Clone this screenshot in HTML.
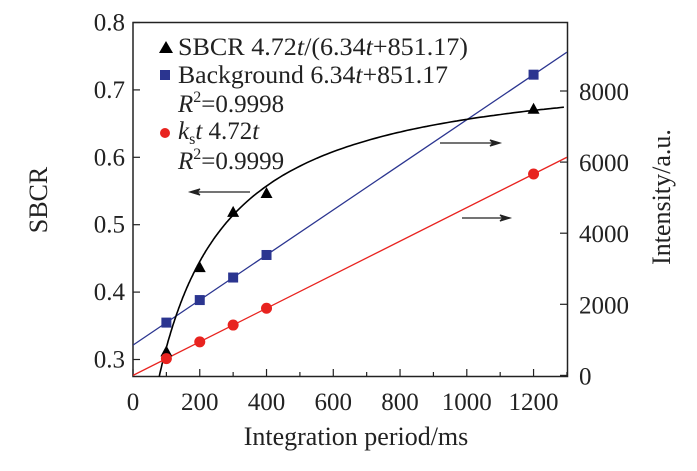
<!DOCTYPE html>
<html><head><meta charset="utf-8"><style>
body{margin:0;background:#fff;}
svg text{font-family:"Liberation Serif",serif;fill:#222;}
</style></head><body>
<svg id="s" width="697" height="466" viewBox="0 0 697 466" xmlns="http://www.w3.org/2000/svg">
<defs><clipPath id="c"><rect x="133" y="22.5" width="434" height="354"/></clipPath></defs>
<rect x="133" y="22.5" width="434.5" height="354" fill="none" stroke="#222" stroke-width="1.5"/>
<g id="ticks" stroke="#222" stroke-width="1.2"></g>
<g id="lab" font-size="25"></g>
<g clip-path="url(#c)" id="lines"></g>
<g id="mk"></g>
<g stroke="#222" stroke-width="1.2" fill="#222">
<line x1="250" y1="192" x2="192" y2="192"/><path d="M190 192 l10 -3 l-3 3 l3 3z"/>
<line x1="440" y1="143" x2="498" y2="143"/><path d="M500 143 l-10 -3 l3 3 l-3 3z"/>
<line x1="462" y1="218" x2="508" y2="218"/><path d="M510 218 l-10 -3 l3 3 l-3 3z"/>
</g>
<g font-size="25">
<path d="M159 53 l7 -12 l7 12z" fill="#000"/>
<text x="178" y="55" textLength="290" lengthAdjust="spacingAndGlyphs">SBCR 4.72<tspan font-style="italic">t</tspan>/(6.34<tspan font-style="italic">t</tspan>+851.17)</text>
<rect x="160" y="70" width="10" height="10" fill="#2b3590"/>
<text x="178" y="83" textLength="270" lengthAdjust="spacingAndGlyphs">Background 6.34<tspan font-style="italic">t</tspan>+851.17</text>
<text x="178" y="112"><tspan font-style="italic">R</tspan><tspan font-size="16" dy="-10">2</tspan><tspan dy="10">=0.9998</tspan></text>
<circle cx="165" cy="133" r="5" fill="#e8231f"/>
<text x="178" y="139"><tspan font-style="italic">k</tspan><tspan font-size="16" dy="5">s</tspan><tspan font-style="italic" dy="-5">t</tspan> 4.72<tspan font-style="italic">t</tspan></text>
<text x="178" y="169"><tspan font-style="italic">R</tspan><tspan font-size="16" dy="-10">2</tspan><tspan dy="10">=0.9999</tspan></text>
<text x="356" y="445" text-anchor="middle" font-size="26">Integration period/ms</text>
<text transform="translate(47,200) rotate(-90)" text-anchor="middle" font-size="26">SBCR</text>
<text transform="translate(670,197) rotate(-90)" text-anchor="middle" font-size="26">Intensity/a.u.</text>
</g>
</svg>
<script>
var NS="http://www.w3.org/2000/svg";
function X(t){return 133+t*0.3338;}
function YL(v){return 22.5+(0.8-v)*674;}
function YR(v){return 375.4-v*0.03555;}
function el(p,n,a,txt){var e=document.createElementNS(NS,n);for(var k in a)e.setAttribute(k,a[k]);if(txt!=null)e.textContent=txt;document.getElementById(p).appendChild(e);return e;}
for(var t=0;t<=1200;t+=200){el("ticks","line",{x1:X(t),y1:376.5,x2:X(t),y2:369});el("lab","text",{x:X(t),y:410,"text-anchor":"middle"},t);}
for(var t=100;t<=1300;t+=200){el("ticks","line",{x1:X(t),y1:376.5,x2:X(t),y2:372});}
[0.3,0.4,0.5,0.6,0.7,0.8].forEach(function(v){el("ticks","line",{x1:133,y1:YL(v),x2:140,y2:YL(v)});el("lab","text",{x:125,y:YL(v)+8,"text-anchor":"end"},v.toFixed(1));});
[0,2000,4000,6000,8000].forEach(function(v){el("ticks","line",{x1:567,y1:YR(v),x2:560,y2:YR(v)});el("lab","text",{x:579,y:YR(v)+9},v);});
el("lines","line",{x1:X(0),y1:YR(851.17),x2:X(1300),y2:YR(6.34*1300+851.17),stroke:"#2b3590","stroke-width":1.3});
el("lines","line",{x1:X(0),y1:YR(0),x2:X(1300),y2:YR(4.72*1300),stroke:"#e8231f","stroke-width":1.3});
var d="";for(var t=75;t<=1300;t+=(t<300?2:10)){var v=4.72*t/(6.34*t+851.17);d+=(d?"L":"M")+X(t).toFixed(1)+" "+YL(v).toFixed(1);}
el("lines","path",{d:d,fill:"none",stroke:"#000","stroke-width":1.6});
[[100,0.312],[200,0.437],[300,0.519],[400,0.547],[1200,0.672]].forEach(function(p){var x=X(p[0]),y=YL(p[1]);el("mk","path",{d:"M"+(x-6)+" "+(y+5)+"l6 -11 l6 11z",fill:"#000"});});
[100,200,300,400,1200].forEach(function(t){var y=YR(6.34*t+851.17);el("mk","rect",{x:X(t)-5,y:y-5,width:10,height:10,fill:"#2b3590"});});
[100,200,300,400,1200].forEach(function(t){el("mk","circle",{cx:X(t),cy:YR(4.72*t),r:5.5,fill:"#e8231f"});});
</script>
</body></html>
